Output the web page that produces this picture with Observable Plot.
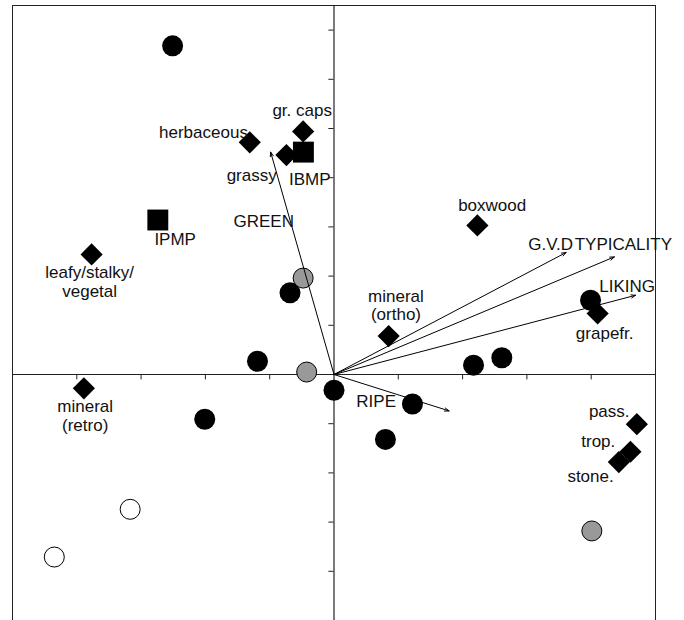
<!DOCTYPE html>
<html><head><meta charset="utf-8">
<script src="https://cdn.jsdelivr.net/npm/d3@7"></script>
<script src="https://cdn.jsdelivr.net/npm/@observablehq/plot@0.6"></script>
<style>body{margin:0;background:#fff}</style>
</head><body><div id="chart"></div>
<script>
// Wine samples (scores on dimension 1 and 2)
const blackX = [-2.51, -0.684, -1.19, -2.01, 0.0, 1.22, 0.80, 2.17, 2.61, 3.99];
const blackY = [6.68, 1.66, 0.27, -0.91, -0.32, -0.60, -1.32, 0.19, 0.34, 1.51];
const grayX = [-0.48, -0.425, 4.01];
const grayY = [1.96, 0.05, -3.18];
const whiteX = [-3.17, -4.35];
const whiteY = [-2.74, -3.71];
// Methoxypyrazines
const compoundNames = ["IPMP", "IBMP"];
const compoundX = [-2.74, -0.476];
const compoundY = [3.14, 4.52];
// Sensory attributes
const attrNames = ["herbaceous", "gr. caps", "grassy", "leafy/stalky/vegetal", "mineral (retro)", "boxwood", "mineral (ortho)", "grapefr.", "pass.", "trop.", "stone."];
const attrX = [-1.31, -0.48, -0.74, -3.77, -3.89, 2.23, 0.85, 4.10, 4.71, 4.61, 4.43];
const attrY = [4.72, 4.94, 4.46, 2.44, -0.28, 3.03, 0.78, 1.24, -1.01, -1.57, -1.78];
// Supplementary vectors
const vectorNames = ["GREEN", "G.V.D", "TYPICALITY", "LIKING", "RIPE"];
const vectorX = [-0.985, 3.61, 4.36, 4.69, 1.79];
const vectorY = [4.52, 2.48, 2.39, 1.61, -0.74];
// Labels
const labelText = ["gr. caps", "herbaceous", "grassy", "IBMP", "GREEN", "IPMP", "leafy/stalky/\nvegetal", "boxwood", "G.V.D", "TYPICALITY", "LIKING", "mineral\n(ortho)", "grapefr.", "RIPE", "mineral\n(retro)", "pass.", "trop.", "stone."];
const labelX = [-0.495, -2.03, -1.28, -0.378, -1.093, -2.47, -3.80, 2.46, 3.37, 4.50, 4.56, 0.964, 4.21, 0.656, -3.87, 4.28, 4.11, 3.99];
const labelY = [5.25, 4.80, 3.93, 3.85, 2.99, 2.63, 1.58, 3.33, 2.54, 2.54, 1.67, 1.10, 0.73, -0.66, -1.15, -0.86, -1.47, -2.18];
// Axis ticks
const xTicks = [-4, -3, -2, -1, 1, 2, 3, 4];
const yTicks = [-4, -3, -2, -1, 1, 2, 3, 4, 5, 6, 7];

const pts = (xs, ys) => xs.map((x, i) => ({x, y: ys[i]}));
const black = pts(blackX, blackY);
const gray = pts(grayX, grayY);
const white = pts(whiteX, whiteY);
const compounds = compoundNames.map((n, i) => ({n, x: compoundX[i], y: compoundY[i]}));
const attrs = attrNames.map((n, i) => ({n, x: attrX[i], y: attrY[i]}));
const vectors = vectorNames.map((n, i) => ({n, x: vectorX[i], y: vectorY[i]}));
const labels = labelText.map((t, i) => ({t, x: labelX[i], y: labelY[i]}));

const chart = Plot.plot({
  width: 684, height: 620,
  marginLeft: 12, marginRight: 29, marginTop: 5, marginBottom: 0,
  x: {domain: [-5, 5], axis: null},
  y: {domain: [-5, 7.5], axis: null},
  style: {fontFamily: "'Liberation Sans', Arial, sans-serif", background: "#fff", overflow: "visible"},
  marks: [
    Plot.ruleX([-5, 5], {y1: -5, y2: 7.5, stroke: "#222", strokeWidth: 1}),
    Plot.ruleY([7.5], {x1: -5, x2: 5, stroke: "#222", strokeWidth: 1}),
    Plot.ruleX([0], {y1: -5, y2: 7.5, stroke: "#222", strokeWidth: 1.2}),
    Plot.ruleY([0], {x1: -5, x2: 5, stroke: "#222", strokeWidth: 1.2}),
    Plot.ruleX(xTicks, {y1: 0, y2: -0.11, stroke: "#222", strokeWidth: 1}),
    Plot.ruleY(yTicks, {x1: -0.08, x2: 0, stroke: "#222", strokeWidth: 1}),
    Plot.dot(black, {x: "x", y: "y", r: 10.5, fill: "#000", stroke: "none"}),
    Plot.dot(gray, {x: "x", y: "y", r: 10, fill: "#999", stroke: "#000", strokeWidth: 1}),
    Plot.dot(white, {x: "x", y: "y", r: 10, fill: "#fff", stroke: "#000", strokeWidth: 1}),
    Plot.dot(attrs, {x: "x", y: "y", r: 10, symbol: "diamond2", fill: "#000", stroke: "none"}),
    Plot.dot(compounds, {x: "x", y: "y", r: 11.8, symbol: "square", fill: "#000", stroke: "none"}),
    Plot.arrow(vectors, {x1: 0, y1: 0, x2: "x", y2: "y", stroke: "#000", strokeWidth: 1, headLength: 7, headAngle: 40}),
    Plot.text(labels, {x: "x", y: "y", text: "t", textAnchor: "middle", lineAnchor: "bottom", lineHeight: 1.1, fontSize: 17, fill: "#111"})
  ]
});
document.getElementById("chart").appendChild(chart);
</script>
</body></html>
